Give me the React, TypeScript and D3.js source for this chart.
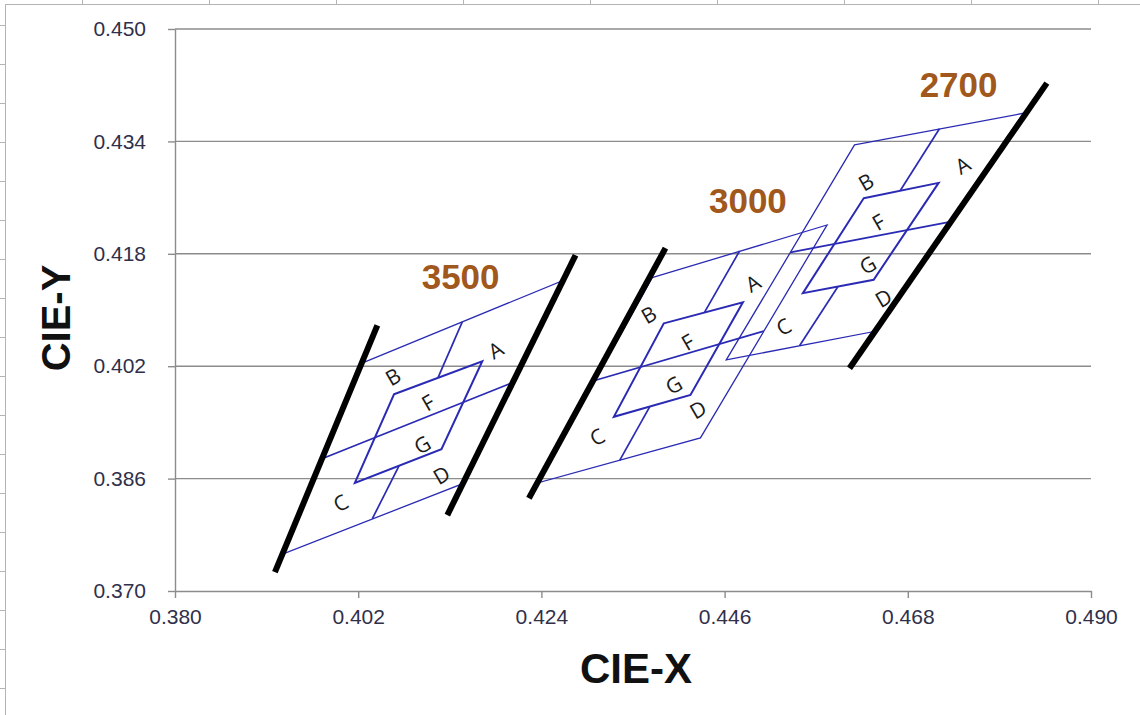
import React, { useEffect, useRef } from "react";
import * as d3 from "d3";

type Pt = [number, number];

const xTicks = [0.38, 0.402, 0.424, 0.446, 0.468, 0.49];
const yTicks = [0.37, 0.386, 0.402, 0.418, 0.434, 0.45];

const binNames = ["A", "B", "C", "D", "F", "G"];

// 3500 K  (outer: TL, TR, BR, BL ; inner: TL, TR, BR, BL)
const outer3500: Pt[] = [[0.4026, 0.4025], [0.4264, 0.4141], [0.4144, 0.3852], [0.393, 0.3753]];
const inner3500: Pt[] = [[0.4063, 0.398], [0.4169, 0.4027], [0.412, 0.3902], [0.4016, 0.3854]];
const midH3500: Pt[] = [[0.3978, 0.3889], [0.4204, 0.3996]];
const midTop3500: Pt[] = [[0.4145, 0.4083], [0.4116, 0.4004]];
const midBottom3500: Pt[] = [[0.4037, 0.3803], [0.4069, 0.3878]];
const letters3500: Pt[] = [[0.4185, 0.4043], [0.4062, 0.4005], [0.3999, 0.3825], [0.412, 0.3865], [0.4104, 0.3968], [0.4097, 0.3908]];

// 3000 K
const outer3000: Pt[] = [[0.4373, 0.4146], [0.4583, 0.4221], [0.4431, 0.3918], [0.4236, 0.3854]];
const inner3000: Pt[] = [[0.4387, 0.4081], [0.4482, 0.4111], [0.4419, 0.3979], [0.4327, 0.3948]];
const midH3000: Pt[] = [[0.4305, 0.4], [0.4507, 0.407]];
const midTop3000: Pt[] = [[0.4478, 0.4184], [0.4436, 0.4097]];
const midBottom3000: Pt[] = [[0.4334, 0.3886], [0.437, 0.3962]];
const letters3000: Pt[] = [[0.4494, 0.4138], [0.4369, 0.4093], [0.4307, 0.3919], [0.4428, 0.3958], [0.4416, 0.4054], [0.4399, 0.3993]];

// 2700 K
const outer2700: Pt[] = [[0.4616, 0.4335], [0.4819, 0.438], [0.4638, 0.4069], [0.4462, 0.4029]];
const inner2700: Pt[] = [[0.4627, 0.4259], [0.4717, 0.4281], [0.4639, 0.4143], [0.4554, 0.4124]];
const midH2700: Pt[] = [[0.4539, 0.4182], [0.4729, 0.4225]];
const midTop2700: Pt[] = [[0.4718, 0.4358], [0.4671, 0.427]];
const midBottom2700: Pt[] = [[0.455, 0.4049], [0.4596, 0.4133]];
const letters2700: Pt[] = [[0.4746, 0.4306], [0.463, 0.4282], [0.4531, 0.4076], [0.4651, 0.4117], [0.4645, 0.4225], [0.4632, 0.4164]];

// thick boundary lines
const boundary3500Left: Pt[] = [[0.392, 0.3727], [0.4043, 0.4078]];
const boundary3500Right: Pt[] = [[0.4127, 0.3808], [0.4281, 0.4178]];
const boundary3000Left: Pt[] = [[0.4225, 0.3832], [0.4389, 0.4188]];
const boundary2700Right: Pt[] = [[0.461, 0.4017], [0.4847, 0.4423]];

const cctNames = ["3500", "3000", "2700"];
const cctLabelPos: Pt[] = [[0.4143, 0.413], [0.4488, 0.4238], [0.4741, 0.4403]];

const BLUE = "#2a2ab4";
const BROWN = "#a0581c";
const GRID = "#8c8c8c";
const FONT = "'Liberation Sans', Arial, sans-serif";

export default function App() {
  const ref = useRef<SVGSVGElement>(null);

  useEffect(() => {
    const svg = d3.select(ref.current);
    svg.selectAll("*").remove();

    const W = 1140;
    const H = 715;
    const m = { left: 175, top: 29, right: 1091, bottom: 591 };

    const x = d3.scaleLinear().domain([0.38, 0.49]).range([m.left, m.right]);
    const y = d3.scaleLinear().domain([0.37, 0.45]).range([m.bottom, m.top]);

    svg.append("rect").attr("width", W).attr("height", H).attr("fill", "#fff");

    // spreadsheet cells peeking around the chart frame
    const frame = svg.append("g").attr("stroke", "#b4b4b4").attr("stroke-width", 1);
    frame.append("line").attr("x1", 5).attr("x2", W).attr("y1", 4.5).attr("y2", 4.5);
    frame.append("line").attr("x1", 5.5).attr("x2", 5.5).attr("y1", 4).attr("y2", H);
    frame.selectAll(".col").data(d3.range(82, W, 127)).join("line")
      .attr("x1", (d) => d + 0.5).attr("x2", (d) => d + 0.5).attr("y1", 0).attr("y2", 4);
    frame.selectAll(".row").data(d3.range(25, H, 39)).join("line")
      .attr("x1", 0).attr("x2", 5).attr("y1", (d) => d + 0.5).attr("y2", (d) => d + 0.5);

    // horizontal gridlines
    svg.append("g").selectAll("line").data(yTicks.slice(1)).join("line")
      .attr("x1", m.left).attr("x2", m.right)
      .attr("y1", (d) => y(d)).attr("y2", (d) => y(d))
      .attr("stroke", GRID).attr("stroke-width", 1.4);

    // axes
    const fmt = d3.format(".3f");
    const gx = svg.append("g").attr("transform", `translate(0,${m.bottom})`)
      .call(d3.axisBottom(x).tickValues(xTicks).tickFormat(fmt).tickSize(7).tickSizeOuter(0).tickPadding(11));
    const gy = svg.append("g").attr("transform", `translate(${m.left},0)`)
      .call(d3.axisLeft(y).tickValues(yTicks).tickFormat(fmt).tickSize(7).tickSizeOuter(0).tickPadding(22));
    [gx, gy].forEach((g) => {
      g.select(".domain").attr("stroke", GRID).attr("stroke-width", 1.4);
      g.selectAll(".tick line").attr("stroke", GRID).attr("stroke-width", 1.4);
      g.selectAll("text").attr("fill", "#30304a").style("font-size", "21px").style("font-family", FONT);
    });

    const line = d3.line<Pt>().x((d) => x(d[0])).y((d) => y(d[1]));
    const closed = d3.line<Pt>().x((d) => x(d[0])).y((d) => y(d[1])).curve(d3.curveLinearClosed);

    const sets = [
      { outer: outer3500, inner: inner3500, midH: midH3500, top: midTop3500, bottom: midBottom3500, letters: letters3500 },
      { outer: outer3000, inner: inner3000, midH: midH3000, top: midTop3000, bottom: midBottom3000, letters: letters3000 },
      { outer: outer2700, inner: inner2700, midH: midH2700, top: midTop2700, bottom: midBottom2700, letters: letters2700 },
    ];

    const quads = svg.append("g").attr("fill", "none").attr("stroke", BLUE).attr("stroke-linejoin", "miter");
    sets.forEach((s) => {
      quads.append("path").attr("d", closed(s.outer)).attr("stroke-width", 1.3);
      quads.append("path").attr("d", line(s.midH)).attr("stroke-width", 1.8);
      quads.append("path").attr("d", line(s.top)).attr("stroke-width", 1.7);
      quads.append("path").attr("d", line(s.bottom)).attr("stroke-width", 1.7);
      quads.append("path").attr("d", closed(s.inner)).attr("stroke-width", 2);
    });

    svg.append("g").selectAll("path")
      .data([boundary3500Left, boundary3500Right, boundary3000Left, boundary2700Right])
      .join("path")
      .attr("d", (d) => line(d))
      .attr("stroke", "#000").attr("stroke-width", 6).attr("fill", "none");

    // bin letters
    const lg = svg.append("g");
    sets.forEach((s) => {
      lg.selectAll(null).data(s.letters).join("text")
        .attr("transform", (d) => `translate(${x(d[0])},${y(d[1])}) rotate(-30)`)
        .attr("text-anchor", "middle").attr("dy", "0.36em")
        .style("font-family", "'Open Sans', 'Noto Sans', sans-serif").style("font-size", "21px")
        .attr("fill", "#1a1a1a")
        .text((d, i) => binNames[i]);
    });

    // CCT labels
    svg.append("g").selectAll("text").data(cctLabelPos).join("text")
      .attr("x", (d) => x(d[0])).attr("y", (d) => y(d[1]))
      .attr("text-anchor", "middle")
      .style("font-family", FONT).style("font-weight", "bold").style("font-size", "35px")
      .attr("fill", BROWN)
      .text((d, i) => cctNames[i]);

    // axis titles
    svg.append("text").attr("x", 636).attr("y", 683).attr("text-anchor", "middle")
      .style("font-family", FONT).style("font-weight", "bold").style("font-size", "42px")
      .attr("fill", "#111").text("CIE-X");
    svg.append("text").attr("transform", "translate(70,318) rotate(-90)").attr("text-anchor", "middle")
      .style("font-family", FONT).style("font-weight", "bold").style("font-size", "40px")
      .attr("fill", "#111").text("CIE-Y");
  }, []);

  return (
    <div style={{ position: "absolute", left: 0, top: 0 }}>
      <svg ref={ref} width={1140} height={715} style={{ display: "block" }} />
    </div>
  );
}
